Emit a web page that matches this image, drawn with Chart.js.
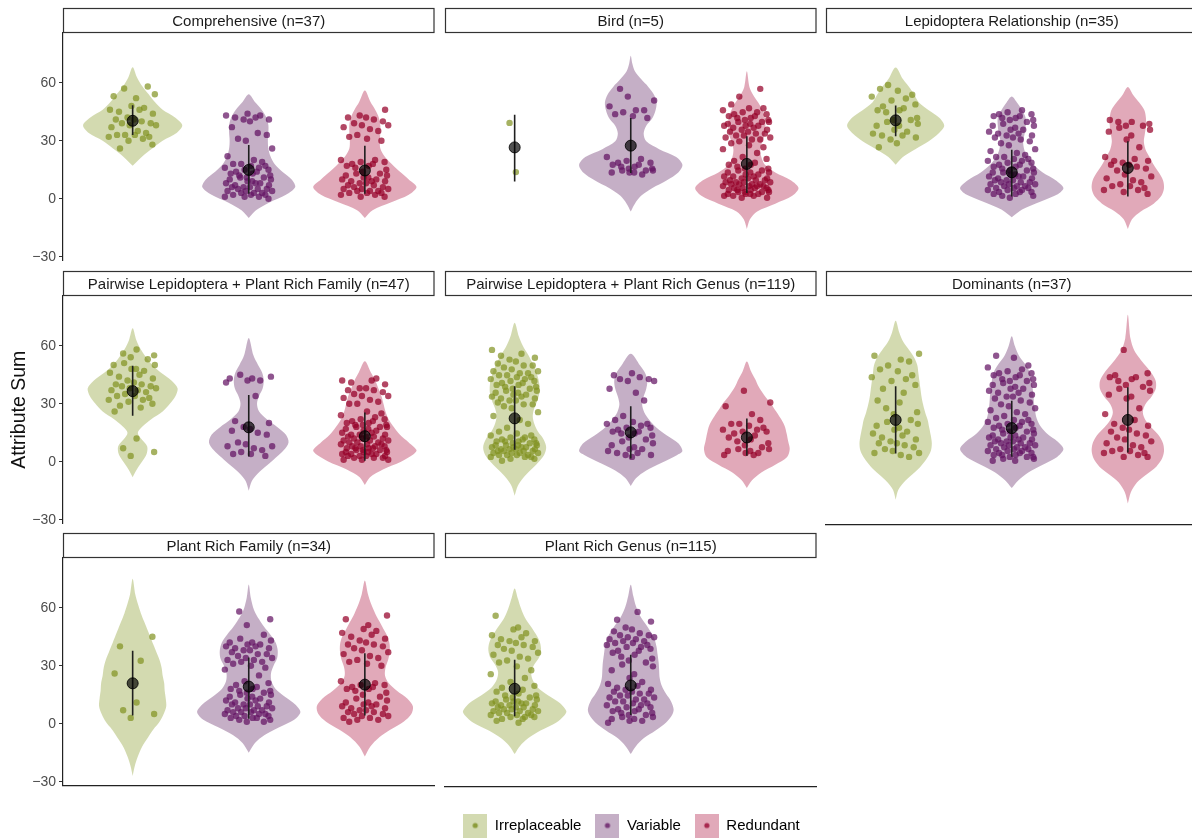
<!DOCTYPE html>
<html>
<head>
<meta charset="utf-8">
<script src="https://cdn.jsdelivr.net/npm/chart.js@4.4.1/dist/chart.umd.min.js"></script>
<style>
  html, body { margin: 0; padding: 0; overflow: hidden; background: #fff; }
  #wrap { position: relative; width: 1192px; height: 839px; overflow: hidden; }
  #wrap canvas { position: absolute; }
</style>
</head>
<body>
<div id="wrap"></div>
<script>
// groups and facet titles
const groups = ['Irreplaceable', 'Variable', 'Redundant'];
const panelTitles = [
  'Comprehensive (n=37)', 'Bird (n=5)', 'Lepidoptera Relationship (n=35)',
  'Pairwise Lepidoptera + Plant Rich Family (n=47)', 'Pairwise Lepidoptera + Plant Rich Genus (n=119)', 'Dominants (n=37)',
  'Plant Rich Family (n=34)', 'Plant Rich Genus (n=115)'
];
const yTicks = [-30, 0, 30, 60];

// mean and mean-sd / mean+sd per group
const meanValues = [[40.3,14.9,14.6],[26.9,27.8,18.4],[40.8,14.1,16.3],[36.5,17.8,13.2],[22.8,15.6,13],[22,17.8,22],[20.9,19.2,20.2],[18.5,20.2]];
const sdLow  = [[33,2.6,2.6],[9.4,13.7,3.4],[32.6,1.7,1.7],[23.8,2.7,0.5],[6.7,2.2,3.6],[4.8,3.1,5.3],[4.3,2.6,4.3],[4.3,5]];
const sdHigh = [[48.4,27.8,27.4],[43.7,42,32.6],[48.4,25.7,30],[49.6,34.5,25.4],[39.3,29,22.8],[39.3,31.9,38.8],[37.7,34.3,36.4],[33.4,36]];

// violin outlines: [attribute sum, relative half width]
const violinComprehensive = [
  [[17,0],[22,.19],[26,.38],[30,.58],[34,.85],[38,.96],[42,.82],[46,.58],[50,.43],[54,.31],[58,.19],[63,.08],[68,0]],
  [[-10,0],[-6,.14],[-2,.4],[2,.72],[6,.9],[10,.83],[14,.65],[18,.5],[22,.42],[26,.38],[30,.37],[34,.38],[38,.38],[42,.34],[46,.25],[50,.12],[54,0]],
  [[-10,0],[-6,.15],[-2,.5],[2,.85],[6,1],[10,.85],[14,.68],[18,.52],[22,.38],[26,.3],[30,.29],[34,.3],[38,.3],[42,.27],[46,.2],[50,.11],[56,0]]
];
const violinBird = [
  null,
  [[-6,0],[-2,.08],[2,.2],[6,.42],[10,.7],[14,.92],[18,1],[22,.88],[26,.55],[30,.3],[34,.25],[38,.3],[42,.42],[46,.48],[50,.5],[54,.45],[58,.34],[62,.2],[66,.08],[70,.03],[74,0]],
  [[-15,0],[-10,.06],[-6,.2],[-2,.55],[2,.88],[6,1],[10,.85],[14,.55],[18,.35],[22,.28],[26,.26],[30,.3],[34,.35],[38,.36],[42,.35],[46,.3],[50,.22],[54,.12],[58,.05],[66,0]]
];
const violinLepidoptera = [
  [[18,0],[22,.14],[26,.38],[30,.64],[34,.83],[38,.94],[42,.85],[46,.64],[50,.45],[54,.36],[58,.26],[62,.14],[68,0]],
  [[-9,0],[-5,.2],[-1,.55],[3,.9],[6,1],[10,.85],[14,.6],[18,.42],[22,.3],[26,.24],[30,.22],[34,.25],[38,.27],[42,.27],[46,.2],[50,.1],[53,0]],
  [[-15,0],[-10,.08],[-6,.25],[-2,.5],[2,.65],[6,.7],[10,.68],[14,.6],[18,.5],[22,.42],[26,.34],[30,.31],[34,.33],[38,.35],[42,.35],[46,.32],[50,.22],[54,.1],[58,0]]
];
const violinPairFamily = [
  [[-8,0],[-4,.08],[0,.18],[4,.27],[8,.28],[12,.16],[15,.1],[18,.18],[22,.36],[26,.58],[30,.72],[34,.83],[38,.87],[42,.75],[46,.55],[50,.38],[54,.26],[58,.16],[63,.07],[69,0]],
  [[-15,0],[-10,.06],[-6,.18],[-2,.35],[2,.52],[6,.68],[10,.77],[14,.72],[18,.55],[22,.35],[26,.2],[30,.16],[34,.2],[38,.27],[42,.29],[46,.26],[50,.18],[55,.09],[64,0]],
  [[-12,0],[-8,.1],[-4,.35],[0,.7],[4,.95],[6,1],[10,.85],[14,.68],[18,.56],[22,.46],[26,.4],[30,.36],[34,.32],[38,.26],[42,.2],[46,.12],[52,0]]
];
const violinPairGenus = [
  [[-17,0],[-12,.06],[-8,.16],[-4,.3],[0,.45],[4,.57],[8,.61],[12,.56],[16,.45],[20,.38],[24,.35],[28,.38],[32,.44],[36,.48],[40,.48],[44,.45],[48,.4],[52,.33],[56,.25],[60,.16],[65,.08],[72,0]],
  [[-12,0],[-8,.1],[-4,.3],[0,.6],[4,.9],[6,1],[10,.92],[14,.7],[18,.5],[22,.36],[26,.26],[30,.22],[34,.25],[38,.3],[42,.32],[46,.28],[50,.18],[56,0]],
  [[-13,0],[-9,.1],[-5,.28],[-1,.55],[3,.78],[7,.83],[11,.8],[15,.77],[19,.73],[23,.65],[27,.55],[31,.45],[35,.33],[39,.23],[43,.16],[47,.08],[52,0]]
];
const violinDominants = [
  [[-19,0],[-14,.05],[-10,.16],[-6,.32],[-2,.48],[2,.6],[6,.68],[10,.7],[14,.68],[18,.65],[22,.62],[26,.57],[30,.53],[34,.5],[38,.48],[42,.46],[46,.44],[50,.42],[54,.36],[58,.26],[62,.15],[67,.07],[73,0]],
  [[-13,0],[-9,.13],[-5,.32],[-1,.6],[3,.88],[7,1],[11,.88],[15,.68],[19,.55],[23,.48],[27,.45],[31,.43],[35,.42],[39,.4],[43,.38],[47,.34],[51,.25],[55,.14],[60,.06],[65,0]],
  [[-21,0],[-15,.06],[-10,.18],[-6,.36],[-2,.55],[2,.66],[6,.7],[10,.68],[14,.6],[18,.46],[22,.34],[26,.29],[30,.34],[34,.46],[38,.54],[42,.54],[46,.46],[50,.34],[54,.22],[58,.12],[64,.05],[76,0]]
];
const violinPlantFamily = [
  [[-27,0],[-22,.04],[-17,.1],[-12,.18],[-7,.3],[-3,.4],[1,.52],[5,.6],[9,.65],[13,.64],[17,.62],[21,.61],[25,.58],[29,.56],[33,.52],[37,.46],[41,.4],[45,.34],[49,.28],[53,.22],[57,.16],[62,.1],[67,.05],[75,0]],
  [[-15,0],[-10,.12],[-6,.3],[-2,.58],[2,.88],[6,1],[10,.9],[14,.7],[18,.52],[22,.44],[26,.43],[30,.48],[34,.55],[38,.56],[42,.52],[46,.42],[50,.3],[54,.2],[59,.1],[65,.04],[72,0]],
  [[-17,0],[-12,.1],[-7,.28],[-3,.5],[1,.75],[5,.9],[9,.93],[13,.82],[17,.62],[21,.46],[25,.39],[29,.4],[33,.45],[37,.48],[41,.48],[45,.44],[49,.36],[53,.28],[57,.2],[62,.12],[67,.06],[74,0]]
];
const violinPlantGenus = [
  [[-15,0],[-11,.1],[-7,.26],[-3,.5],[1,.8],[5,.97],[7,1],[11,.88],[15,.65],[19,.45],[23,.35],[27,.32],[31,.38],[35,.48],[39,.51],[43,.48],[47,.4],[51,.3],[55,.2],[60,.12],[65,.06],[70,0]],
  [[-15,0],[-11,.1],[-7,.25],[-3,.48],[1,.68],[5,.8],[8,.83],[12,.78],[16,.68],[20,.6],[24,.56],[28,.55],[32,.54],[36,.52],[40,.5],[44,.46],[48,.38],[52,.28],[56,.18],[61,.1],[66,.05],[72,0]]
];

// individual attribute sums
const pointsComprehensive = [
  [58,57,54,53,52,48,47,46,46,45,44,42,41,41,40,39,39,38,38,37,35,34,33,33,33,32,32,31,30,28,26],
  [44,43,43,42,42,41,41,40,37,34,33,31,30,26,22,20,19,18,18,17,17,16,16,15,15,14,14,13,13,12,12,11,11,11,10,10,9,9,8,8,8,7,7,6,6,6,5,5,5,4,4,4,3,3,3,2,2,2,1,1,1,0],
  [46,43,42,42,41,40,39,38,38,37,36,35,33,32,31,30,20,20,19,19,18,18,17,17,16,15,14,13,13,12,12,11,11,10,10,9,9,9,8,8,7,7,6,6,5,5,5,4,4,4,3,3,3,2,2,1,1]
];
const pointsBird = [
  [39.5,14.2],
  [57,53,51,48,46,46,45,44,43,42,22,21,20,19,19,18,18,17,17,16,16,15,15,15,14,14,14,13],
  [57,53,49,47,47,46,45,45,44,44,43,43,42,42,41,41,40,40,40,39,39,38,38,38,37,37,36,36,35,35,34,34,33,33,32,32,31,31,30,29,28,27,26,24,22,21,20,19,18,18,17,16,16,15,15,14,14,14,13,13,12,12,12,11,11,11,10,10,10,9,9,9,9,8,8,8,8,7,7,7,7,6,6,6,6,5,5,5,5,4,4,4,4,3,3,3,3,2,2,2,1,1]
];
const pointsLepidoptera = [
  [59,57,56,54,53,52,51,49,48,47,46,46,45,42,41,41,40,39,38,38,36,35,34,33,33,32,31,29,27],
  [46,45,44,44,43,43,42,42,41,41,40,39,38,38,37,36,36,35,34,34,33,33,32,32,31,30,29,28,26,25,24,23,22,22,21,21,20,20,19,19,18,18,17,17,16,16,15,15,14,14,14,13,13,12,12,12,11,11,10,10,10,9,9,9,8,8,8,7,7,7,6,6,6,5,5,5,4,4,4,3,3,2,2,1],
  [41,40,40,39,38,38,37,36,35,33,31,27,22,21,20,20,19,18,18,17,16,15,13,12,11,10,9,8,7,7,6,5,5,4,3]
];
const pointsPairFamily = [
  [58,56,55,54,53,51,50,50,48,48,47,46,45,44,43,42,41,40,40,39,39,38,38,37,37,36,35,34,34,33,32,32,31,30,29,28,26,12,7,5,3],
  [45,44,43,43,42,42,41,34,21,20,18,17,16,15,14,10,9,8,8,7,6,5,4,4,3],
  [43,42,42,41,40,38,38,37,37,36,35,34,34,33,32,31,30,30,26,25,24,23,22,22,21,21,20,20,19,19,19,18,18,18,17,17,16,16,15,15,14,14,14,13,13,13,12,12,12,11,11,11,10,10,10,9,9,9,8,8,8,8,7,7,7,7,6,6,6,6,5,5,5,5,4,4,4,4,3,3,3,3,2,2,2,1,1,1]
];
const pointsPairGenus = [
  [58,56,55,54,53,52,51,50,50,49,48,47,47,46,46,45,45,44,44,43,43,42,42,41,41,40,40,39,39,38,38,37,37,36,36,35,35,34,34,33,33,32,32,31,30,30,29,28,26,24,22,20,18,16,15,14,14,13,13,12,12,12,11,11,11,10,10,10,9,9,9,9,8,8,8,8,7,7,7,7,6,6,6,6,5,5,5,5,4,4,4,4,3,3,3,2,2,1],
  [46,45,44,43,43,42,42,38,36,32,24,22,21,20,20,19,18,18,17,16,16,15,15,14,13,12,11,10,9,8,7,7,6,5,5,4,4,3],
  [37,31,29,25,22,20,20,19,18,17,17,16,16,15,14,13,12,11,10,9,8,7,7,6,6,5,5,4,4]
];
const pointsDominants = [
  [56,55,53,52,50,48,47,45,44,43,42,40,38,36,32,31,28,26,25,22,21,20,19,18,17,16,15,14,13,12,11,10,10,9,8,7,6,5,5,4,3],
  [55,54,50,49,48,47,46,46,45,45,44,43,43,42,42,41,40,40,39,38,38,37,36,36,35,34,34,33,32,31,30,29,28,27,26,25,24,23,22,22,21,21,20,20,19,19,18,18,17,17,16,16,15,15,14,14,13,13,13,12,12,12,11,11,11,10,10,10,9,9,9,8,8,8,7,7,7,6,6,6,5,5,5,4,4,4,3,3,3,2,2,1,1],
  [58,46,45,44,44,43,42,41,40,39,38,37,35,34,33,28,25,22,20,19,18,17,16,15,14,13,12,11,10,9,8,7,6,6,5,5,4,3,3]
];
const pointsPlantFamily = [
  [45,40,32.6,26,11,7,5,3],
  [58,54,51,46,44,43,42,42,41,41,40,40,39,39,38,38,37,36,36,35,34,34,33,33,32,32,31,30,29,28,25,22,21,20,19,18,18,17,17,16,16,15,15,14,14,13,13,12,12,11,11,10,10,10,9,9,8,8,8,7,7,7,6,6,6,5,5,5,4,4,4,3,3,3,2,2,1,1],
  [56,54,51,49,48,47,46,45,44,43,42,41,41,40,39,38,37,36,35,34,33,32,31,30,22,21,20,20,19,19,18,18,17,16,15,14,13,12,11,11,10,10,9,9,8,8,7,7,6,6,5,5,4,4,3,3,2,2,1]
];
const pointsPlantGenus = [
  [56,50,49,47,46,45,44,43,43,42,41,41,40,39,38,37,36,35,34,33,32,30,28,26,24,22,20,19,18,17,16,15,15,14,14,13,13,12,12,12,11,11,11,10,10,10,9,9,9,8,8,8,7,7,7,6,6,6,5,5,5,4,4,4,3,3,2,1],
  [58,54,53,50,49,48,47,46,46,45,45,44,44,43,43,42,42,41,41,40,40,39,38,38,37,36,35,34,33,32,31,30,28,26,24,22,21,20,19,18,18,17,17,16,16,15,15,14,14,13,13,12,12,11,11,10,10,9,9,8,8,7,7,6,6,5,5,4,4,3,3,2,2,1]
];

// horizontal spread of the jittered points, as fractions of the jitter width
const jitter = [0.62,-0.35,0.91,-0.78,0.14,-0.05,0.47,-0.93,0.28,-0.56,0.83,-0.21,0.05,-0.69,0.37,0.74,-0.44,-0.12,0.96,-0.87,0.21,0.55,-0.31,-0.64,0.09,0.68,-0.98,0.42,-0.17,0.81,-0.52,0.33,-0.74,0.16,-0.39,0.88,-0.08];

const violinsByPanel = [violinComprehensive, violinBird, violinLepidoptera, violinPairFamily, violinPairGenus, violinDominants, violinPlantFamily, violinPlantGenus];
const pointsByPanel = [pointsComprehensive, pointsBird, pointsLepidoptera, pointsPairFamily, pointsPairGenus, pointsDominants, pointsPlantFamily, pointsPlantGenus];

// colours
const violinFill = ['rgba(168,182,98,0.5)', 'rgba(140,95,142,0.5)', 'rgba(196,84,115,0.5)'];
const pointColor = ['rgba(128,146,32,0.7)', 'rgba(100,20,100,0.72)', 'rgba(150,0,40,0.72)'];
const keyFill = ['#d3dab1', '#c5afc6', '#e1a9b9'];
const keyDot = ['#8c9c3a', '#7a3a7a', '#a8294f'];

// facet geometry
const colLeft = [63, 445, 826];
const rowTop = [33, 296, 558];
const plotW = 374, plotH = 229, stripH = 25, axisW = 63;
const yMin = -32, yMax = 85.7;
const halfMax = 0.445, jitterW = 0.21;
const fontFam = '"Liberation Sans", Arial, Helvetica, sans-serif';
const bottomAxisPanels = [5, 6, 7];
const wrap = document.getElementById('wrap');

Chart.defaults.font.family = fontFam;

// strip header above every panel
const stripPlugin = {
  id: 'strip',
  afterDraw(chart, args, opts) {
    const {ctx, chartArea} = chart;
    const top = chartArea.top - stripH;
    ctx.save();
    ctx.fillStyle = '#fff';
    ctx.fillRect(chartArea.left, top, chartArea.right - chartArea.left, stripH);
    ctx.strokeStyle = '#333';
    ctx.lineWidth = 1.2;
    ctx.strokeRect(chartArea.left + 0.5, top + 0.5, chartArea.right - chartArea.left - 1, stripH - 1);
    ctx.fillStyle = '#1a1a1a';
    ctx.font = '15px ' + fontFam;
    ctx.textAlign = 'center';
    ctx.textBaseline = 'middle';
    ctx.fillText(opts.text, (chartArea.left + chartArea.right) / 2, top + stripH / 2 + 1);
    ctx.restore();
  }
};

function violinOutline(shape, cx) {
  let right = shape.map(s => ({x: cx + s[1] * halfMax, y: s[0]}));
  let left = shape.slice().reverse().map(s => ({x: cx - s[1] * halfMax, y: s[0]}));
  return right.concat(left.slice(1));
}

function minusLabel(v) {
  return v < 0 ? '\u2212' + Math.abs(v) : String(v);
}

panelTitles.forEach((title, p) => {
  const col = p % 3, row = Math.floor(p / 3);
  const w = axisW + plotW + 4, h = stripH + 2 + plotH + 10;
  const cv = document.createElement('canvas');
  cv.width = w; cv.height = h;
  cv.style.width = w + 'px'; cv.style.height = h + 'px';
  cv.style.left = (colLeft[col] - axisW) + 'px';
  cv.style.top = (rowTop[row] - stripH - 2) + 'px';
  wrap.appendChild(cv);

  const datasets = [];
  meanValues[p].forEach((m, g) => {
    const cx = g + 1;
    const shape = violinsByPanel[p][g];
    if (shape) {
      datasets.push({
        data: violinOutline(shape, cx), showLine: true, fill: 'shape', tension: 0.3,
        backgroundColor: violinFill[g], borderColor: 'transparent', borderWidth: 0,
        pointRadius: 0, order: 4
      });
    }
    const start = (p * 11 + g * 5) % jitter.length;
    datasets.push({
      data: pointsByPanel[p][g].map((v, k) => ({x: cx + jitter[(start + k) % jitter.length] * jitterW, y: v})),
      pointRadius: 3.2, backgroundColor: pointColor[g], borderWidth: 0, order: 3
    });
    datasets.push({
      data: [{x: cx, y: sdLow[p][g]}, {x: cx, y: sdHigh[p][g]}], showLine: true,
      borderColor: '#1f1f1f', borderWidth: 1.6, pointRadius: 0, order: 2
    });
    datasets.push({
      data: [{x: cx, y: m}], pointRadius: 5.5,
      backgroundColor: 'rgba(0,0,0,0.68)', borderColor: 'rgba(0,0,0,0.85)', borderWidth: 1, order: 1
    });
  });

  const firstCol = col === 0;
  new Chart(cv, {
    type: 'scatter',
    data: {datasets},
    options: {
      responsive: false, animation: false, events: [],
      layout: {padding: {top: stripH + 2, bottom: 10, right: 4, left: 0}},
      plugins: {legend: {display: false}, tooltip: {enabled: false}, strip: {text: title}},
      scales: {
        x: {
          type: 'linear', min: 0.4, max: 3.6,
          ticks: {display: false},
          grid: {display: false},
          border: {display: bottomAxisPanels.includes(p), color: '#222', width: 1.2},
          afterFit: s => { s.height = 0; }
        },
        y: {
          min: yMin, max: yMax,
          afterBuildTicks: s => { s.ticks = yTicks.map(v => ({value: v})); },
          afterFit: s => { s.width = axisW; },
          ticks: {display: firstCol, padding: 3, color: '#4d4d4d', font: {size: 14}, callback: minusLabel},
          grid: {display: firstCol, drawOnChartArea: false, drawTicks: true, tickLength: 4, color: '#333'},
          border: {display: firstCol, color: '#222', width: 1.2},
          title: {display: p === 3, text: 'Attribute Sum', color: '#111', font: {size: 19.5}, padding: {top: 8, bottom: 0}}
        }
      }
    },
    plugins: [stripPlugin]
  });
});

// legend keys: filled square with a dot
const keyCanvases = groups.map((g, i) => {
  const k = document.createElement('canvas');
  k.width = 24; k.height = 24;
  const c = k.getContext('2d');
  c.fillStyle = keyFill[i];
  c.fillRect(0, 0, 24, 24);
  c.fillStyle = keyDot[i];
  c.beginPath();
  c.arc(12, 12, 2.6, 0, Math.PI * 2);
  c.fill();
  return k;
});

const lg = document.createElement('canvas');
lg.width = 1137; lg.height = 35;
lg.style.width = '1137px'; lg.style.height = '35px';
lg.style.left = '63px'; lg.style.top = '804px';
wrap.appendChild(lg);
new Chart(lg, {
  type: 'scatter',
  data: {datasets: groups.map(g => ({label: g, data: []}))},
  options: {
    responsive: false, animation: false, events: [],
    scales: {x: {display: false}, y: {display: false}},
    plugins: {
      tooltip: {enabled: false},
      legend: {
        display: true, position: 'top', align: 'center', maxHeight: 35,
        labels: {
          usePointStyle: true, pointStyleWidth: 24, boxHeight: 15, padding: 14,
          color: '#1a1a1a', font: {size: 15},
          generateLabels: () => groups.map((g, i) => ({
            text: g, pointStyle: keyCanvases[i], fillStyle: keyFill[i],
            strokeStyle: 'transparent', lineWidth: 0, hidden: false, datasetIndex: i
          }))
        }
      }
    }
  }
});
</script>
</body>
</html>
